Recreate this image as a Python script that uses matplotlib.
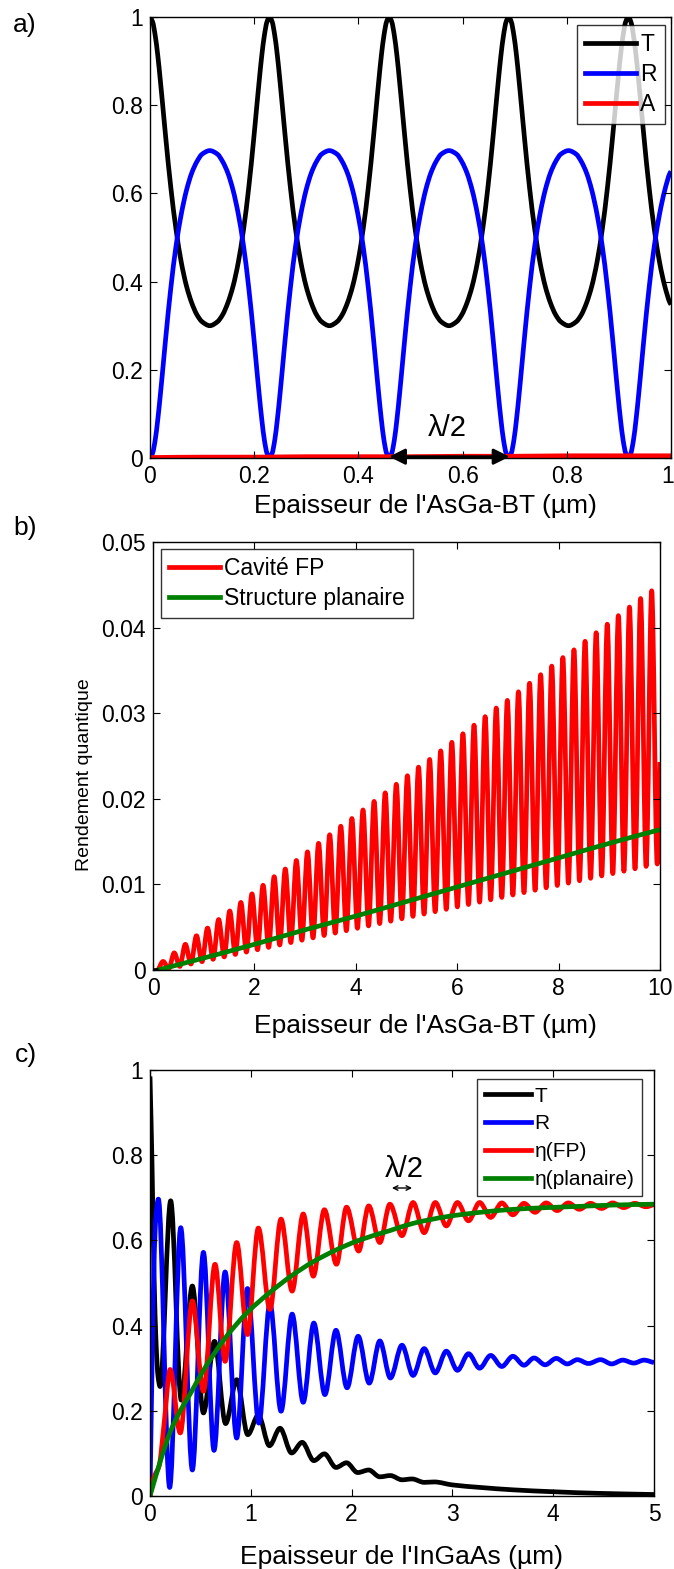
import numpy as np
import matplotlib
matplotlib.use('Agg')
import matplotlib.pyplot as plt
from matplotlib.path import Path
from matplotlib.patches import PathPatch
from matplotlib.lines import Line2D
from matplotlib.ticker import FuncFormatter
import matplotlib.transforms as mtransforms

plt.rcParams['font.family'] = ['Liberation Sans', 'DejaVu Sans']

# ---- panel a : T, R, A vs AsGa-BT thickness ----
a_x = [0.0, 0.005, 0.01, 0.015, 0.02, 0.025, 0.03, 0.04, 0.05, 0.06, 0.07, 0.08, 0.09, 0.1, 0.1148,
       0.1295, 0.1395, 0.1495, 0.1595, 0.1695, 0.1795, 0.1895, 0.1995, 0.2045, 0.2095, 0.2145, 0.2195, 0.2245,
       0.2295, 0.2345, 0.2395, 0.2445, 0.2495, 0.2545, 0.2595, 0.2695, 0.2795, 0.2895, 0.2995, 0.3095, 0.3195, 0.3295, 0.3443,
       0.359, 0.369, 0.379, 0.389, 0.399, 0.409, 0.419, 0.429, 0.434, 0.439, 0.444, 0.449, 0.454,
       0.459, 0.464, 0.469, 0.474, 0.479, 0.484, 0.489, 0.499, 0.509, 0.519, 0.529, 0.539, 0.549, 0.559, 0.5738,
       0.5885, 0.5985, 0.6085, 0.6185, 0.6285, 0.6385, 0.6485, 0.6585, 0.6635, 0.6685, 0.6735, 0.6785, 0.6835,
       0.6885, 0.6935, 0.6985, 0.7035, 0.7085, 0.7135, 0.7185, 0.7285, 0.7385, 0.7485, 0.7585, 0.7685, 0.7785, 0.7885, 0.8033,
       0.818, 0.828, 0.838, 0.848, 0.858, 0.868, 0.878, 0.888, 0.893, 0.898, 0.903, 0.908, 0.913,
       0.918, 0.923, 0.928, 0.933, 0.938, 0.943, 0.948, 0.958, 0.968, 0.978, 0.988, 0.998, 1.0]
a_T = [1.0, 0.989, 0.958, 0.912, 0.854, 0.792, 0.729, 0.613, 0.518, 0.444, 0.390, 0.352, 0.325, 0.309, 0.300,
       0.309, 0.325, 0.352, 0.390, 0.444, 0.518, 0.613, 0.729, 0.792, 0.854, 0.912, 0.958, 0.989,
       1.0, 0.989, 0.958, 0.912, 0.854, 0.792, 0.729, 0.613, 0.518, 0.444, 0.390, 0.352, 0.325, 0.309, 0.300,
       0.309, 0.325, 0.352, 0.390, 0.444, 0.518, 0.613, 0.729, 0.792, 0.854, 0.912, 0.958, 0.989,
       1.0, 0.989, 0.958, 0.912, 0.854, 0.792, 0.729, 0.613, 0.518, 0.444, 0.390, 0.352, 0.325, 0.309, 0.300,
       0.309, 0.325, 0.352, 0.390, 0.444, 0.518, 0.613, 0.729, 0.792, 0.854, 0.912, 0.958, 0.989,
       1.0, 0.989, 0.958, 0.912, 0.854, 0.792, 0.729, 0.613, 0.518, 0.444, 0.390, 0.352, 0.325, 0.309, 0.300,
       0.309, 0.325, 0.352, 0.390, 0.444, 0.518, 0.613, 0.729, 0.792, 0.854, 0.912, 0.958, 0.989,
       1.0, 0.989, 0.958, 0.912, 0.854, 0.792, 0.729, 0.613, 0.518, 0.444, 0.390, 0.352, 0.348]
a_R = [0.0, 0.011, 0.041, 0.088, 0.145, 0.207, 0.270, 0.386, 0.481, 0.553, 0.607, 0.646, 0.672, 0.689, 0.697,
       0.689, 0.672, 0.646, 0.607, 0.553, 0.481, 0.386, 0.270, 0.207, 0.145, 0.088, 0.041, 0.011,
       0.0, 0.011, 0.041, 0.088, 0.145, 0.207, 0.270, 0.386, 0.481, 0.553, 0.607, 0.646, 0.672, 0.689, 0.697,
       0.689, 0.672, 0.646, 0.607, 0.553, 0.481, 0.386, 0.270, 0.207, 0.145, 0.088, 0.041, 0.011,
       0.0, 0.011, 0.041, 0.088, 0.145, 0.207, 0.270, 0.386, 0.481, 0.553, 0.607, 0.646, 0.672, 0.689, 0.697,
       0.689, 0.672, 0.646, 0.607, 0.553, 0.481, 0.386, 0.270, 0.207, 0.145, 0.088, 0.041, 0.011,
       0.0, 0.011, 0.041, 0.088, 0.145, 0.207, 0.270, 0.386, 0.481, 0.553, 0.607, 0.646, 0.672, 0.689, 0.697,
       0.689, 0.672, 0.646, 0.607, 0.553, 0.481, 0.386, 0.270, 0.207, 0.145, 0.088, 0.041, 0.011,
       0.0, 0.011, 0.041, 0.088, 0.145, 0.207, 0.270, 0.386, 0.481, 0.553, 0.607, 0.646, 0.650]
a_A_x = [0.0, 0.1, 0.2, 0.3, 0.4, 0.5, 0.6, 0.7, 0.8, 0.9, 1.0]
a_A = [0.001, 0.002, 0.002, 0.003, 0.003, 0.003, 0.004, 0.004, 0.005, 0.005, 0.005]

# ---- panel b : quantum efficiency, FP cavity vs planar ----
fp_peak_x = [0.200, 0.419, 0.638, 0.857, 1.076, 1.295, 1.514, 1.733, 1.952, 2.171, 2.390, 2.609, 2.828, 3.047, 3.266,
             3.485, 3.704, 3.923, 4.142, 4.361, 4.580, 4.799, 5.018, 5.237, 5.456, 5.675, 5.894, 6.113, 6.332, 6.551,
             6.770, 6.989, 7.208, 7.427, 7.646, 7.865, 8.084, 8.303, 8.522, 8.741, 8.960, 9.179, 9.398, 9.617, 9.836]
fp_peak_y = [0.0010, 0.0020, 0.0030, 0.0040, 0.0049, 0.0059, 0.0069, 0.0079, 0.0089, 0.0099, 0.0109, 0.0118, 0.0128, 0.0138, 0.0148,
             0.0158, 0.0168, 0.0177, 0.0187, 0.0197, 0.0207, 0.0217, 0.0227, 0.0237, 0.0246, 0.0256, 0.0266, 0.0276, 0.0286, 0.0296,
             0.0306, 0.0315, 0.0325, 0.0335, 0.0345, 0.0355, 0.0365, 0.0374, 0.0384, 0.0394, 0.0404, 0.0414, 0.0424, 0.0434, 0.0443]
fp_trough_x = [0.100, 0.3095, 0.5285, 0.7475, 0.9665, 1.1855, 1.4045, 1.6235, 1.8425, 2.0615, 2.2805, 2.4995, 2.7185, 2.9375, 3.1565,
               3.3755, 3.5945, 3.8135, 4.0325, 4.2515, 4.4705, 4.6895, 4.9085, 5.1275, 5.3465, 5.5655, 5.7845, 6.0035, 6.2225, 6.4415,
               6.6605, 6.8795, 7.0985, 7.3175, 7.5365, 7.7555, 7.9745, 8.1935, 8.4125, 8.6315, 8.8505, 9.0695, 9.2885, 9.5075, 9.7265, 9.9455]
fp_trough_y = [0.0, 0.00014, 0.00042, 0.00070, 0.00097, 0.00125, 0.00153, 0.00181, 0.00209, 0.00236, 0.00264, 0.00292, 0.00320, 0.00348, 0.00375,
               0.00403, 0.00431, 0.00459, 0.00487, 0.00515, 0.00542, 0.00570, 0.00598, 0.00626, 0.00654, 0.00681, 0.00709, 0.00737, 0.00765, 0.00793,
               0.00820, 0.00848, 0.00876, 0.00904, 0.00932, 0.00960, 0.00987, 0.01015, 0.01043, 0.01071, 0.01099, 0.01126, 0.01154, 0.01182, 0.01210, 0.01238]
fp_end = (10.0, 0.0243)
plan_b_x = [0.1, 1, 2, 3, 4, 5, 6, 7, 8, 9, 10]
plan_b_y = [0.0, 0.0014, 0.0030, 0.0047, 0.0063, 0.0080, 0.0097, 0.0114, 0.0131, 0.0148, 0.0164]
b_black_x = [0.0, 0.1]
b_black_y = [0.0, 0.0]

# ---- panel c : InGaAs layer ----
c_T_x = [0.0, 0.02, 0.04, 0.06, 0.08, 0.10, 0.205, 0.31, 0.42, 0.53, 0.64, 0.75, 0.86, 0.97, 1.075, 1.185, 1.29, 1.405,
         1.51, 1.625, 1.73, 1.845, 1.95, 2.06, 2.17, 2.28, 2.385, 2.50, 2.60, 2.72, 2.82, 3.0, 3.28, 3.6, 4.0, 4.44, 5.0]
c_T_y = [0.985, 0.78, 0.52, 0.36, 0.28, 0.257, 0.693, 0.225, 0.493, 0.195, 0.363, 0.170, 0.273, 0.144, 0.190, 0.118, 0.159, 0.101,
         0.126, 0.083, 0.099, 0.067, 0.078, 0.055, 0.061, 0.045, 0.048, 0.038, 0.040, 0.032, 0.033, 0.026, 0.020, 0.0145, 0.010, 0.0063, 0.0035]
c_R_x = [0.0, 0.02, 0.04, 0.06, 0.083, 0.195, 0.305, 0.42, 0.53, 0.635, 0.745, 0.86, 0.967, 1.08, 1.19, 1.30, 1.41, 1.52,
         1.625, 1.735, 1.845, 1.955, 2.065, 2.175, 2.28, 2.385, 2.50, 2.61, 2.72, 2.83, 2.94, 3.05, 3.16, 3.27, 3.38, 3.49,
         3.60, 3.71, 3.81, 3.92, 4.03, 4.14, 4.24, 4.35, 4.47, 4.58, 4.69, 4.80, 4.90, 5.0]
c_R_y = [0.0, 0.30, 0.55, 0.66, 0.697, 0.020, 0.630, 0.061, 0.572, 0.107, 0.526, 0.136, 0.487, 0.171, 0.452, 0.199, 0.427, 0.220,
         0.406, 0.238, 0.389, 0.254, 0.375, 0.265, 0.364, 0.277, 0.354, 0.283, 0.346, 0.289, 0.340, 0.295, 0.334, 0.300, 0.330, 0.304,
         0.328, 0.307, 0.324, 0.308, 0.323, 0.310, 0.320, 0.311, 0.320, 0.310, 0.319, 0.312, 0.319, 0.313]
c_FP_x = [0.0, 0.02, 0.05, 0.09, 0.14, 0.20, 0.30, 0.42, 0.53, 0.645, 0.745, 0.86, 0.967, 1.075, 1.19, 1.30, 1.41, 1.52,
          1.62, 1.73, 1.85, 1.95, 2.07, 2.17, 2.28, 2.38, 2.50, 2.61, 2.72, 2.83, 2.94, 3.05, 3.16, 3.27, 3.38, 3.49,
          3.60, 3.71, 3.82, 3.93, 4.04, 4.15, 4.26, 4.37, 4.48, 4.59, 4.70, 4.81, 4.92, 5.0]
c_FP_y = [0.0, 0.03, 0.05, 0.07, 0.17, 0.297, 0.148, 0.458, 0.246, 0.544, 0.316, 0.595, 0.379, 0.629, 0.438, 0.650, 0.481, 0.662,
          0.516, 0.672, 0.544, 0.678, 0.575, 0.681, 0.595, 0.685, 0.611, 0.689, 0.618, 0.689, 0.634, 0.689, 0.646, 0.689, 0.654, 0.688,
          0.660, 0.687, 0.666, 0.688, 0.670, 0.688, 0.673, 0.687, 0.675, 0.688, 0.677, 0.687, 0.679, 0.684]
c_plan_x = [0.0, 0.1, 0.2, 0.3, 0.4, 0.53, 0.75, 0.97, 1.19, 1.41, 1.62, 1.85, 2.07, 2.38, 2.61, 2.95, 3.28, 3.61, 3.94, 4.27, 4.6, 5.0]
c_plan_y = [0.0, 0.08, 0.15, 0.20, 0.24, 0.295, 0.372, 0.432, 0.478, 0.518, 0.550, 0.578, 0.600, 0.623, 0.640, 0.656, 0.666, 0.673,
            0.677, 0.680, 0.683, 0.685]

W, H = 674, 1569
LW = 3.4
fig = plt.figure(figsize=(W / 100, H / 100), dpi=100)


def make_axes(left, right, top, bottom):
    return fig.add_axes([left / W, 1 - bottom / H, (right - left) / W, (bottom - top) / H])


def curve(ax, x, y, color):
    # smooth, shape-preserving (pchip-like) bezier through the read points
    x = np.asarray(x, float)
    y = np.asarray(y, float)
    h = np.diff(x)
    d = np.diff(y) / h
    m = np.zeros_like(x)
    m[0], m[-1] = d[0], d[-1]
    for i in range(1, len(x) - 1):
        if d[i - 1] * d[i] > 0:
            w1 = 2 * h[i] + h[i - 1]
            w2 = h[i] + 2 * h[i - 1]
            m[i] = (w1 + w2) / (w1 / d[i - 1] + w2 / d[i])
    verts = [(x[0], y[0])]
    codes = [Path.MOVETO]
    for i in range(len(h)):
        verts += [(x[i] + h[i] / 3, y[i] + m[i] * h[i] / 3),
                  (x[i + 1] - h[i] / 3, y[i + 1] - m[i + 1] * h[i] / 3),
                  (x[i + 1], y[i + 1])]
        codes += [Path.CURVE4] * 3
    ax.add_patch(PathPatch(Path(verts, codes), facecolor='none', edgecolor=color, lw=LW,
                           joinstyle='round', capstyle='butt'))


def style(ax):
    ax.tick_params(direction='in', top=True, right=True, length=5, width=0.8, labelsize=16.5, pad=5)
    for s in ax.spines.values():
        s.set_linewidth(1.0)
    fmt = FuncFormatter(lambda v, p: '%g' % round(v, 6))
    ax.xaxis.set_major_formatter(fmt)
    ax.yaxis.set_major_formatter(fmt)


def legend(ax, labels, colors, size=16.5, spacing=0.3, **kw):
    handles = [Line2D([], [], color=c, lw=LW) for c in colors]
    leg = ax.legend(handles, labels, fontsize=size, frameon=True, fancybox=False, handlelength=2.2,
                    handletextpad=0.2, labelspacing=spacing, borderpad=0.35, borderaxespad=0, **kw)
    leg.get_frame().set_edgecolor('black')
    leg.get_frame().set_linewidth(1.0)
    return leg


# panel a
ax1 = make_axes(150, 671, 17, 458)
curve(ax1, a_x, a_T, 'black')
curve(ax1, a_x, a_R, 'blue')
curve(ax1, a_A_x, a_A, 'red')
ax1.set_xlim(0, 1)
ax1.set_ylim(0, 1)
ax1.set_xticks([0, 0.2, 0.4, 0.6, 0.8, 1])
ax1.set_yticks([0, 0.2, 0.4, 0.6, 0.8, 1])
style(ax1)
ax1.set_xlabel("Epaisseur de l'AsGa-BT (µm)", fontsize=19, labelpad=4)
ax1.xaxis.label.set_x(0.529)
legend(ax1, ['T', 'R', 'A'], ['black', 'blue', 'red'], loc='upper right', bbox_to_anchor=(0.988, 0.982))
ax1.annotate('', xy=(0.459, 0.003), xytext=(0.69, 0.003),
             arrowprops=dict(arrowstyle='<|-|>', color='black', lw=2, mutation_scale=24, shrinkA=0, shrinkB=0))
ax1.text(0.571, 0.068, 'λ/2', ha='center', va='center', fontsize=21)
fig.text(13 / W, 1 - 25 / H, 'a)', fontsize=19, va='center')
last = ax1.get_xticklabels()[-1]
last.set_transform(last.get_transform() + mtransforms.ScaledTranslation(-3 / 100, 0, fig.dpi_scale_trans))

# panel b
ax2 = make_axes(153, 660, 542, 970)
fp_x = [fp_trough_x[0]]
fp_y = [fp_trough_y[0]]
for i in range(len(fp_peak_x)):
    fp_x += [fp_peak_x[i], fp_trough_x[i + 1]]
    fp_y += [fp_peak_y[i], fp_trough_y[i + 1]]
fp_x.append(fp_end[0])
fp_y.append(fp_end[1])
curve(ax2, fp_x, fp_y, 'red')
curve(ax2, plan_b_x, plan_b_y, 'green')
ax2.plot(b_black_x, b_black_y, color='black', lw=LW, solid_capstyle='butt')
ax2.set_xlim(0, 10)
ax2.set_ylim(0, 0.05)
ax2.set_xticks([0, 2, 4, 6, 8, 10])
ax2.set_yticks([0, 0.01, 0.02, 0.03, 0.04, 0.05])
style(ax2)
ax2.set_xlabel("Epaisseur de l'AsGa-BT (µm)", fontsize=19, labelpad=10)
ax2.xaxis.label.set_x(0.538)
ax2.set_ylabel('Rendement quantique', fontsize=14, labelpad=6)
ax2.yaxis.label.set_y(0.456)
legend(ax2, ['Cavité FP', 'Structure planaire'], ['red', 'green'], loc='upper left', bbox_to_anchor=(0.016, 0.984))
fig.text(13 / W, 1 - 528 / H, 'b)', fontsize=19, va='center')

# panel c
ax3 = make_axes(150, 654, 1070, 1496)
curve(ax3, c_T_x, c_T_y, 'black')
curve(ax3, c_R_x, c_R_y, 'blue')
curve(ax3, c_FP_x, c_FP_y, 'red')
curve(ax3, c_plan_x, c_plan_y, 'green')
ax3.set_xlim(0, 5)
ax3.set_ylim(0, 1)
ax3.set_xticks([0, 1, 2, 3, 4, 5])
ax3.set_yticks([0, 0.2, 0.4, 0.6, 0.8, 1])
style(ax3)
ax3.set_xlabel("Epaisseur de l'InGaAs (µm)", fontsize=19, labelpad=14)
legend(ax3, ['T', 'R', 'η(FP)', 'η(planaire)'], ['black', 'blue', 'red', 'green'], size=15, spacing=0.42,
       loc='upper right', bbox_to_anchor=(0.976, 0.978))
ax3.annotate('', xy=(2.40, 0.723), xytext=(2.60, 0.723),
             arrowprops=dict(arrowstyle='<->', color='black', lw=1, mutation_scale=8, shrinkA=0, shrinkB=0))
ax3.text(2.52, 0.768, 'λ/2', ha='center', va='center', fontsize=21)
fig.text(15 / W, 1 - 1055 / H, 'c)', fontsize=19, va='center')

fig.savefig('out.png', dpi=100)
